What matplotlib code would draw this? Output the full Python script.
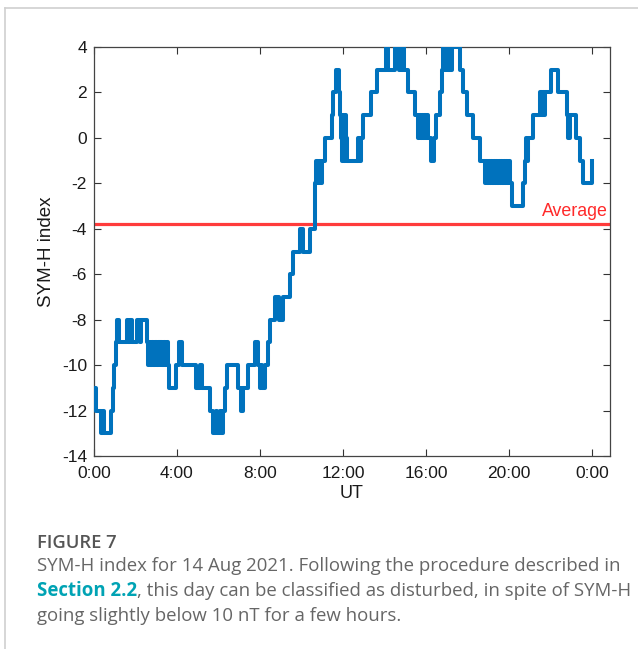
import matplotlib
matplotlib.use("Agg")
import matplotlib.pyplot as plt
from matplotlib.lines import Line2D


# DATA

# SYM-H step changes: hour of day (UT) where a new value starts, and the value (nT)
change_hour = [
    0.00, 0.10, 0.34, 0.42, 0.46, 0.82, 0.90, 0.98, 1.04, 1.09,
    1.22, 1.57, 1.65, 1.73, 1.85, 2.06, 2.22, 2.28, 2.54, 2.60,
    2.66, 2.72, 2.78, 2.86, 2.94, 3.02, 3.10, 3.18, 3.20, 3.28,
    3.36, 3.44, 3.50, 3.55, 3.60, 3.95, 4.10, 4.22, 4.92, 5.11,
    5.19, 5.59, 5.75, 5.90, 5.94, 6.06, 6.10, 6.23, 6.31, 6.39,
    6.95, 7.07, 7.16, 7.42, 7.74, 7.92, 8.00, 8.06, 8.12, 8.26,
    8.38, 8.48, 8.72, 8.94, 9.10, 9.45, 9.61, 9.93, 10.09, 10.41,
    10.64, 10.67, 10.71, 10.80, 10.84, 10.94, 10.99, 11.13, 11.45, 11.53,
    11.66, 11.82, 11.86, 11.90, 11.94, 12.02, 12.06, 12.10, 12.16, 12.20,
    12.74, 12.80, 12.86, 12.98, 13.34, 13.62, 14.06, 14.18, 14.51, 14.72,
    14.76, 14.83, 14.90, 14.96, 15.15, 15.47, 15.63, 15.68, 15.74, 15.80,
    15.86, 15.92, 15.98, 16.04, 16.08, 16.22, 16.37, 16.47, 16.67, 16.75,
    16.83, 16.90, 16.97, 17.04, 17.24, 17.64, 17.80, 17.96, 18.28, 18.61,
    18.84, 18.90, 18.96, 19.02, 19.08, 19.14, 19.20, 19.26, 19.32, 19.38,
    19.44, 19.50, 19.56, 19.62, 19.68, 19.74, 19.80, 19.86, 19.92, 19.98,
    20.03, 20.13, 20.69, 20.77, 20.82, 20.86, 20.92, 21.17, 21.49, 21.57,
    21.63, 21.68, 21.73, 22.05, 22.38, 22.78, 22.86, 22.94, 23.25, 23.42,
    23.55, 23.98, 24.00,
]
symh = [
    -11, -12, -13, -12, -13, -12, -11, -10, -9, -8,
    -9, -8, -9, -8, -9, -8, -9, -8, -9, -10,
    -9, -10, -9, -10, -9, -10, -9, -10, -9, -10,
    -9, -10, -9, -10, -11, -10, -9, -10, -11, -10,
    -11, -12, -13, -12, -13, -12, -13, -12, -11, -10,
    -11, -12, -11, -10, -9, -10, -11, -10, -11, -10,
    -9, -8, -7, -8, -7, -6, -5, -4, -5, -4,
    -3, -2, -1, -2, -1, -2, -1, 0, 1, 2,
    3, 2, 1, 0, -1, 1, -1, 1, 0, -1,
    0, -1, 0, 1, 2, 3, 4, 3, 4, 3,
    4, 3, 4, 3, 2, 1, 0, 1, 0, 1,
    0, 1, 0, 1, 0, -1, 0, 1, 2, 3,
    4, 3, 4, 3, 4, 3, 2, 1, 0, -1,
    -2, -1, -2, -1, -2, -1, -2, -1, -2, -1,
    -2, -1, -2, -1, -2, -1, -2, -1, -2, -1,
    -2, -3, -2, -1, 0, -1, 0, 1, 2, 1,
    2, 1, 2, 3, 2, 1, 0, 1, 0, -1,
    -2, -1, -1,
]
symh_average = -3.8

xtick_hours = [0, 4, 8, 12, 16, 20, 24]
xtick_labels = ["0:00", "4:00", "8:00", "12:00", "16:00", "20:00", "0:00"]
ytick_values = [-14, -12, -10, -8, -6, -4, -2, 0, 2, 4]

caption_title = "FIGURE 7"
caption_line1 = "SYM-H index for 14 Aug 2021. Following the procedure described in"
caption_link = "Section 2.2"
caption_line2 = ", this day can be classified as disturbed, in spite of SYM-H"
caption_line3 = "going slightly below 10 nT for a few hours."


# FIGURE

plt.rcParams["font.family"] = ["Liberation Sans", "DejaVu Sans"]

W, H = 638, 649
fig = plt.figure(figsize=(W / 100, H / 100), dpi=100)
fig.patch.set_facecolor("white")

def fx(px):
    return px / W

def fy(py):
    return 1 - py / H

# light card frame on top and left
fig.add_artist(Line2D([fx(5), 1], [fy(8), fy(8)], color="#d0d0d0", lw=1.2))
fig.add_artist(Line2D([fx(5), fx(5)], [fy(8), 0], color="#d0d0d0", lw=1.2))

ax = fig.add_axes([fx(94), fy(456), fx(610) - fx(94), fy(47) - fy(456)])

ax.axhline(symh_average, color="#ff3b3b", lw=2.3, zorder=2)
ax.step(change_hour, symh, where="post", color="#0072bd", lw=2.9, zorder=3)
ax.text(24.78, symh_average + 0.58, "Average", color="#ff2a2a", ha="right",
        va="center", fontsize=12.8)

ax.set_xlim(0, 24.87)
ax.set_ylim(-14, 4)
ax.set_xticks(xtick_hours)
ax.set_xticklabels(xtick_labels)
ax.set_yticks(ytick_values)
ax.set_yticklabels([str(v) for v in ytick_values])

ax.tick_params(direction="in", length=5, width=0.8, color="#333333",
               top=True, right=True, labelsize=12.5, labelcolor="#1a1a1a")
ax.tick_params(axis="x", pad=7)
ax.tick_params(axis="y", pad=5)
for s in ax.spines.values():
    s.set_color("#444444")
    s.set_linewidth(0.9)

ax.set_xlabel("UT", fontsize=13, color="#1a1a1a", labelpad=3)
ax.set_ylabel("SYM-H index", fontsize=13.5, color="#1a1a1a", labelpad=5)


# CAPTION

cap_font = ["Open Sans", "DejaVu Sans"]
cap_size = 13.4
fig.text(fx(37), fy(543), caption_title, fontsize=13.2, family=cap_font,
         fontweight="semibold", color="#555555", va="center")
fig.text(fx(37), fy(566), caption_line1, fontsize=cap_size, family=cap_font,
         color="#666666", va="center")
link = fig.text(fx(37), fy(591), caption_link, fontsize=cap_size, family=cap_font,
                fontweight="bold", color="#00a3b4", va="center")
fig.canvas.draw()
bb = link.get_window_extent(fig.canvas.get_renderer())
fig.text(bb.x1 / W, fy(591), caption_line2, fontsize=cap_size, family=cap_font,
         color="#666666", va="center")
fig.text(fx(37), fy(616), caption_line3, fontsize=cap_size, family=cap_font,
         color="#666666", va="center")

fig.savefig("out.png", dpi=100)
